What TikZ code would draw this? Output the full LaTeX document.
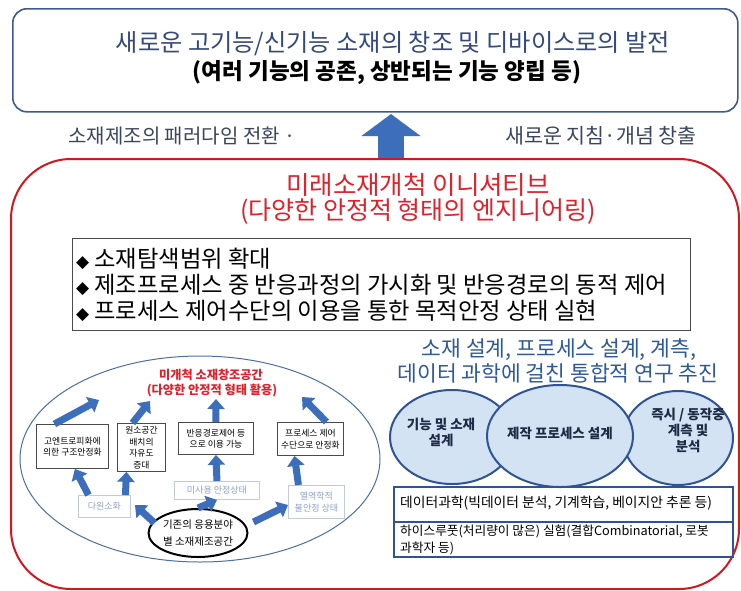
\documentclass[tikz,border=0pt]{standalone}
\usepackage{fontspec}
\setmainfont{Noto Sans CJK KR}
\newfontfamily\symfont{DejaVu Sans}
\usetikzlibrary{arrows.meta,shapes.geometric}
\definecolor{topblue}{HTML}{3F5B8E}
\definecolor{titleblue}{HTML}{34497E}
\definecolor{midtext}{HTML}{3B4560}
\definecolor{arrowblue}{HTML}{3D6EBC}
\definecolor{redc}{HTML}{D4161F}
\definecolor{redtext}{HTML}{E0202A}
\definecolor{headblue}{HTML}{2E5A9C}
\definecolor{ellblue}{HTML}{2F5496}
\definecolor{ellfill}{HTML}{D3E3F4}
\definecolor{elltext}{HTML}{1F2A44}
\definecolor{bigellc}{HTML}{4A6FA5}
\definecolor{boxgray}{HTML}{4A4A4A}
\definecolor{lightgray2}{HTML}{C5CBD6}
\definecolor{lighttext}{HTML}{8EA3C6}
\begin{document}
\begin{tikzpicture}[x=1pt,y=-1pt,
  blkarr/.style={line width=7pt, draw=arrowblue, -{Triangle[width=17pt,length=10pt]}},
  dbox/.style={draw=boxgray, line width=0.9pt, fill=white, align=center, inner sep=1pt, anchor=north west, font=\fontsize{8.8}{11.5}\selectfont},
  lbox/.style={draw=lightgray2, line width=0.9pt, fill=white, align=center, inner sep=1pt, anchor=north west, text=lighttext, font=\fontsize{9}{11.5}\selectfont},
  bigell/.style={ellipse, draw=ellblue, fill=ellfill, line width=2pt, inner sep=0pt},
  datacell/.style={draw=ellblue, line width=2pt, anchor=north west, minimum width=339pt, minimum height=35pt, inner sep=0pt},
  txt/.style={inner sep=0pt, align=center},
  bul/.style={inner sep=0pt, anchor=west, font=\fontsize{23.3}{26}\selectfont}
]
\useasboundingbox (0,0) rectangle (741,590);
\fill[white] (0,0) rectangle (741,590);

% top box
\node[draw=topblue, line width=1.6pt, rounded corners=14pt, anchor=north west,
      minimum width=725pt, minimum height=103pt, inner sep=0pt] (topbox) at (12,8) {};
\node[txt, text=titleblue, font=\fontsize{24.2}{26}\selectfont] (t1) at (393,44) {새로운 고기능/신기능 소재의 창조 및 디바이스로의 발전};
\node[txt, font=\bfseries\fontsize{22.5}{24}\selectfont] (t2) at (387,73) {(여러 기능의 공존, 상반되는 기능 양립 등)};

% middle labels and arrow
\node[txt, text=midtext, font=\fontsize{20}{22}\selectfont] (lab1) at (182,136) {소재제조의 패러다임 전환 ·};
\node[txt, text=midtext, font=\fontsize{20.6}{22}\selectfont] (lab2) at (601,136) {새로운 지침·개념 창출};

% red box
\node[draw=redc, line width=2pt, rounded corners=60pt, anchor=north west,
      minimum width=728pt, minimum height=430pt, inner sep=0pt] (redbox) at (10,158) {};
\coordinate (upstart) at (391,158);
\coordinate (uptip) at (391,114);
\draw[line width=26pt, arrowblue, -{Triangle[width=58pt,length=22pt]}] (upstart) -- (uptip);

\node[txt, text=redtext, font=\fontsize{25.5}{28}\selectfont] (r1) at (418,185) {미래소재개척 이니셔티브};
\node[txt, text=redtext, font=\fontsize{25}{28}\selectfont] (r2) at (418,212) {(다양한 안정적 형태의 엔지니어링)};

% bullet box
\node[draw=boxgray, line width=0.9pt, anchor=north west, minimum width=618pt, minimum height=92pt, inner sep=0pt] (bullets) at (72,238) {};
\node[bul] (bl1) at (76,259) {{\symfont\fontsize{17}{18}\selectfont ◆} 소재탐색범위 확대};
\node[bul] (bl2) at (76,285) {{\symfont\fontsize{17}{18}\selectfont ◆} 제조프로세스 중 반응과정의 가시화 및 반응경로의 동적 제어};
\node[bul] (bl3) at (76,311) {{\symfont\fontsize{17}{18}\selectfont ◆} 프로세스 제어수단의 이용을 통한 목적안정 상태 실현};

% right heading
\node[txt, text=headblue, font=\fontsize{21.5}{24}\selectfont] (h1) at (559,350) {소재 설계, 프로세스 설계, 계측,};
\node[txt, text=headblue, font=\fontsize{21.5}{24}\selectfont] (h2) at (558,373) {데이터 과학에 걸친 통합적 연구 추진};

% right ellipses
\node[bigell, minimum width=124pt, minimum height=94pt] (e1) at (452,437) {};
\node[bigell, minimum width=110pt, minimum height=94pt] (e3) at (678,438) {};
\node[bigell, minimum width=146pt, minimum height=102pt] (e2) at (560,436) {};
\node[txt, text=elltext, font=\bfseries\fontsize{13.5}{16}\selectfont] (e1t) at (441,432) {기능 및 소재\\설계};
\node[txt, text=elltext, font=\bfseries\fontsize{13.5}{16}\selectfont] (e2t) at (560,433) {제작 프로세스 설계};
\node[txt, text=elltext, font=\bfseries\fontsize{13.5}{16}\selectfont] (e3t) at (688,430) {즉시 / 동작중\\계측 및\\분석};

% data boxes
\node[datacell] (d1) at (393,486) {};
\node[datacell] (d2) at (393,521) {};
\node[txt, anchor=west, font=\fontsize{13.8}{16}\selectfont] (d1t) at (400,503) {데이터과학(빅데이터 분석, 기계학습, 베이지안 추론 등)};
\node[txt, anchor=west, align=left, font=\fontsize{12.7}{17}\selectfont] (d2t) at (400,540) {하이스루풋(처리량이 많은) 실험(결합Combinatorial, 로봇\\과학자 등)};

% left ellipse
\node[ellipse, draw=bigellc, line width=1pt, minimum width=360pt, minimum height=206pt, inner sep=0pt] (leftell) at (200,459) {};
\node[txt, text=redtext, font=\bfseries\fontsize{12.2}{14}\selectfont] (lr1) at (211,375) {미개척 소재창조공간};
\node[txt, text=redtext, font=\bfseries\fontsize{12.2}{14}\selectfont] (lr2) at (212,391) {(다양한 안정적 형태 활용)};

\node[dbox, minimum width=72pt, minimum height=44pt] (b1) at (36,424) {고엔트로피화에\\의한 구조안정화};
\node[dbox, minimum width=48pt, minimum height=48pt] (b2) at (117,423) {원소공간\\배치의\\자유도\\증대};
\node[dbox, minimum width=75pt, minimum height=32pt] (b3) at (178,422) {반응경로제어 등\\으로 이용 가능};
\node[dbox, minimum width=66pt, minimum height=33pt] (b4) at (277,422) {프로세스 제어\\수단으로 안정화};

\node[lbox, minimum width=52pt, minimum height=22pt] (dw) at (78,495) {다원소화};
\node[lbox, minimum width=85pt, minimum height=18pt] (ms) at (174,481) {미사용 안정상태};
\node[lbox, minimum width=56pt, minimum height=33pt] (yl) at (288,485) {열역학적\\불안정 상태};

\node[ellipse, draw=black, line width=2pt, fill=white, minimum width=86pt, minimum height=48pt, inner sep=0pt, align=center, font=\fontsize{10.5}{17}\selectfont] (ex) at (198,533) {기존의 응용분야\\별 소재제조공간};

% arrows in left ellipse
\coordinate (a1) at (99,400);
\coordinate (a2) at (150,401);
\coordinate (a3) at (216,399);
\coordinate (a4) at (302,397);
\coordinate (a5) at (135,505);
\coordinate (a6) at (288,505);
\draw[blkarr] ([xshift=-18pt]b1.north) -- (a1);
\draw[blkarr] ([xshift=-9pt]b2.north) -- (a2);
\draw[blkarr] (b3.north) -- (a3);
\draw[blkarr] ([xshift=16pt]b4.north) -- (a4);
\draw[blkarr] ([xshift=-16pt]dw.north) -- ([xshift=-34pt]b1.south east);
\draw[blkarr] ([xshift=21pt]dw.north) -- ([xshift=-15pt]b2.south);
\draw[blkarr] (ms.north) -- (b3.south);
\draw[blkarr] (ex.north) -- (ms.south);
\draw[blkarr] ([xshift=-18pt]yl.north) -- ([xshift=-16pt]b4.south);
\draw[blkarr] ([shift={(7,-10)}]ex.west) -- (a5);
\draw[blkarr] ([shift={(5,-11)}]ex.east) -- (a6);
\end{tikzpicture}
\end{document}
